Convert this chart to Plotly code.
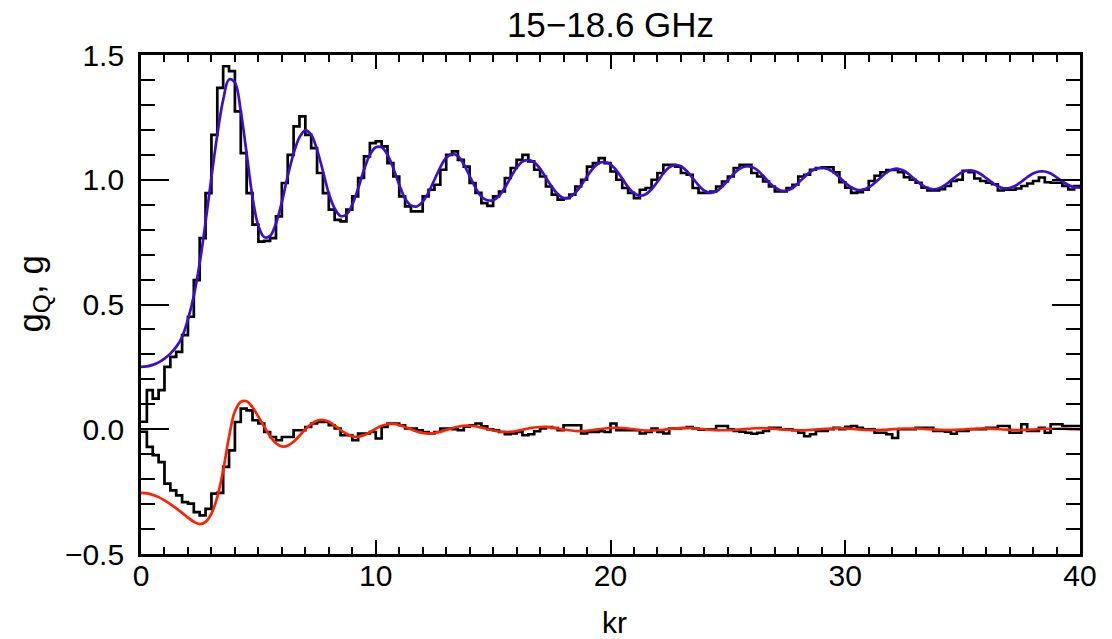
import numpy as np
import plotly.graph_objects as go

# ---------------- data ----------------
BIN_WIDTH = 0.25
X_MAX = 40.0

# measured histogram g (upper, black), 160 bins of width 0.25 in kr
g_hist = [
    0.03, 0.157, 0.123, 0.157, 0.25, 0.29, 0.31, 0.377, 0.451, 0.598,
    0.766, 0.946, 1.18, 1.368, 1.455, 1.435, 1.274, 1.107, 0.946, 0.82,
    0.752, 0.755, 0.766, 0.853, 0.987, 1.10, 1.214, 1.254, 1.18, 1.127,
    1.027, 0.946, 0.88, 0.839, 0.833, 0.88, 0.933, 1.007, 1.094, 1.147,
    1.154, 1.134, 1.067, 1.013, 0.933, 0.893, 0.873, 0.873, 0.933, 0.96,
    0.98, 1.04, 1.10, 1.114, 1.08, 1.053, 0.987, 0.947, 0.906, 0.895,
    0.933, 0.953, 1.007, 1.047, 1.08, 1.10, 1.074, 1.04, 1.013, 0.973,
    0.94, 0.92, 0.926, 0.94, 0.973, 1.0, 1.053, 1.067, 1.087, 1.067,
    1.033, 1.0, 0.967, 0.947, 0.926, 0.96, 0.967, 1.0, 1.027, 1.06,
    1.06, 1.053, 1.027, 1.02, 0.967, 0.947, 0.947, 0.953, 0.973, 0.993,
    1.013, 1.047, 1.06, 1.06, 1.027, 1.013, 0.993, 0.973, 0.953, 0.953,
    0.967, 0.98, 1.013, 1.02, 1.04, 1.047, 1.05, 1.05, 1.03, 0.99,
    0.968, 0.947, 0.95, 0.96, 0.995, 1.016, 1.03, 1.039, 1.039, 1.03,
    1.01, 1.0, 0.988, 0.968, 0.957, 0.957, 0.962, 0.975, 0.995, 1.0,
    1.036, 1.03, 1.005, 0.995, 0.988, 0.982, 0.957, 0.96, 0.96, 0.965,
    0.975, 0.985, 0.995, 1.009, 0.99, 0.988, 0.988, 0.975, 0.961, 0.975,
]

# measured histogram g_Q (lower, black)
gq_hist = [
    -0.01, -0.071, -0.104, -0.132, -0.218, -0.245, -0.265, -0.292, -0.298, -0.332,
    -0.345, -0.319, -0.258, -0.255, -0.151, -0.085, 0.029, 0.083, 0.076, 0.036,
    0.023, -0.011, -0.031, -0.044, -0.031, -0.031, -0.004, -0.004, 0.009, 0.023,
    0.029, 0.029, 0.016, 0.003, -0.024, -0.024, -0.044, -0.017, -0.017, -0.011,
    -0.037, 0.009, 0.023, 0.023, 0.016, 0.003, 0.003, -0.004, -0.011, -0.017,
    -0.011, 0.003, 0.003, 0.0, -0.004, 0.01, 0.016, 0.023, 0.012, 0.0,
    -0.004, -0.011, -0.02, -0.017, -0.011, -0.024, -0.02, -0.008, 0.003, 0.009,
    0.005, -0.004, 0.016, 0.016, 0.016, -0.017, -0.011, -0.011, -0.008, -0.011,
    0.023, -0.004, -0.004, -0.004, -0.004, -0.017, -0.011, 0.003, -0.011, -0.017,
    0.003, 0.003, 0.005, 0.009, 0.003, -0.002, 0.0, 0.0, 0.013, 0.013,
    0.0, -0.007, -0.01, -0.014, -0.018, -0.014, -0.007, 0.006, 0.006, 0.0,
    0.0, -0.004, -0.014, -0.028, -0.02, -0.007, -0.007, 0.0, 0.006, 0.0,
    0.01, 0.013, 0.006, 0.0, 0.0, -0.014, -0.014, -0.02, -0.035, 0.0,
    0.0, 0.0, 0.006, 0.006, 0.006, -0.007, -0.007, -0.01, -0.018, -0.007,
    -0.007, 0.0, 0.0, 0.0, 0.006, 0.006, 0.013, 0.013, -0.014, -0.014,
    0.02, -0.007, -0.007, 0.006, -0.014, 0.02, 0.02, 0.013, 0.013, 0.013,
]

curve_step = 0.25
g_model = [
    0.250, 0.252, 0.258, 0.268, 0.283, 0.303, 0.330, 0.370, 0.440, 0.535,
    0.665, 0.830, 1.010, 1.180, 1.320, 1.402, 1.390, 1.275, 1.105, 0.930,
    0.815, 0.770, 0.775, 0.825, 0.910, 1.015, 1.105, 1.170, 1.198, 1.180,
    1.120, 1.035, 0.945, 0.885, 0.855, 0.860, 0.900, 0.965, 1.040, 1.100,
    1.130, 1.130, 1.100, 1.045, 0.980, 0.925, 0.897, 0.893, 0.912, 0.950,
    1.000, 1.050, 1.088, 1.103, 1.095, 1.062, 1.015, 0.968, 0.932, 0.918,
    0.918, 0.935, 0.968, 1.010, 1.048, 1.073, 1.080, 1.070, 1.045, 1.008,
    0.972, 0.943, 0.927, 0.929, 0.948, 0.978, 1.013, 1.045, 1.066, 1.071,
    1.062, 1.038, 1.005, 0.971, 0.946, 0.936, 0.942, 0.962, 0.992, 1.025,
    1.050, 1.059, 1.054, 1.035, 1.007, 0.978, 0.956, 0.948, 0.953, 0.972,
    0.998, 1.024, 1.044, 1.053, 1.052, 1.039, 1.016, 0.990, 0.969, 0.957,
    0.957, 0.967, 0.987, 1.010, 1.031, 1.044, 1.047, 1.043, 1.030, 1.010,
    0.988, 0.970, 0.960, 0.960, 0.969, 0.987, 1.008, 1.028, 1.041, 1.044,
    1.036, 1.019, 0.999, 0.980, 0.967, 0.962, 0.966, 0.979, 0.997, 1.016,
    1.031, 1.037, 1.035, 1.024, 1.007, 0.989, 0.974, 0.966, 0.967, 0.976,
    0.992, 1.010, 1.025, 1.033, 1.033, 1.025, 1.010, 0.993, 0.979, 0.970,
    0.968,
]
gq_model = [
    -0.255, -0.257, -0.263, -0.272, -0.285, -0.300, -0.317, -0.335, -0.354, -0.371,
    -0.380, -0.371, -0.338, -0.272, -0.165, -0.030, 0.072, 0.110, 0.112, 0.088,
    0.050, 0.010, -0.028, -0.056, -0.069, -0.066, -0.050, -0.026, 0.000, 0.021,
    0.034, 0.037, 0.030, 0.015, -0.003, -0.018, -0.028, -0.030, -0.024, -0.012,
    0.002, 0.014, 0.020, 0.021, 0.017, 0.009, 0.000, -0.009, -0.015, -0.017,
    -0.015, -0.010, -0.003, 0.004, 0.010, 0.014, 0.014, 0.012, 0.007, 0.001,
    -0.005, -0.009, -0.011, -0.010, -0.007, -0.002, 0.003, 0.007, 0.009, 0.009,
    0.007, 0.003, -0.001, -0.004, -0.007, -0.007, -0.006, -0.003, 0.000, 0.003,
    0.005, 0.006, 0.005, 0.003, 0.000, -0.003, -0.005, -0.005, -0.004, -0.002,
    0.001, 0.003, 0.004, 0.005, 0.004, 0.002, 0.000, -0.002, -0.004, -0.004,
    -0.004, -0.003, -0.001, 0.001, 0.003, 0.004, 0.004, 0.003, 0.002, 0.000,
    -0.002, -0.003, -0.004, -0.004, -0.003, -0.001, 0.001, 0.002, 0.003, 0.004,
    0.003, 0.002, 0.000, -0.002, -0.003, -0.004, -0.003, -0.002, 0.000, 0.002,
    0.003, 0.003, 0.003, 0.002, 0.000, -0.001, -0.002, -0.003, -0.003, -0.002,
    -0.001, 0.001, 0.002, 0.003, 0.003, 0.002, 0.001, -0.001, -0.002, -0.003,
    -0.003, -0.002, -0.001, 0.001, 0.002, 0.002, 0.002, 0.002, 0.001, 0.000,
    -0.001,
]

title_text = "15\u221218.6 GHz"
x_title = "kr"
y_title = "g<sub>Q</sub>, g"
x_tickvals = [0, 10, 20, 30, 40]
x_ticktext = ["0", "10", "20", "30", "40"]
y_tickvals = [-0.5, 0.0, 0.5, 1.0, 1.5]
y_ticktext = ["\u22120.5", "0.0", "0.5", "1.0", "1.5"]

# ---------------- build ----------------
edges = np.arange(len(g_hist) + 1) * BIN_WIDTH
xs_hist = edges
g_steps = list(g_hist) + [g_hist[-1]]
gq_steps = list(gq_hist) + [gq_hist[-1]]
xs_curve = np.arange(len(g_model)) * curve_step

FONT = "Liberation Sans, Arial, sans-serif"
LW = 2.7

fig = go.Figure()
fig.add_trace(go.Scatter(x=xs_hist, y=g_steps, mode="lines", line_shape="hv",
                         line=dict(color="black", width=LW), showlegend=False))
fig.add_trace(go.Scatter(x=xs_hist, y=gq_steps, mode="lines", line_shape="hv",
                         line=dict(color="black", width=LW), showlegend=False))
fig.add_trace(go.Scatter(x=xs_curve, y=g_model, mode="lines", line_shape="spline",
                         line=dict(color="#3c0fd0", width=LW), showlegend=False))
fig.add_trace(go.Scatter(x=xs_curve, y=gq_model, mode="lines", line_shape="spline",
                         line=dict(color="#ff2200", width=LW), showlegend=False))

fig.update_layout(
    width=1112, height=639,
    paper_bgcolor="white", plot_bgcolor="white",
    margin=dict(l=141, r=32, t=55, b=85),
    font=dict(family=FONT, color="black"),
    title=dict(text=title_text, x=0.549, xanchor="center", y=0.981, yanchor="top",
               yref="container", font=dict(size=35, family=FONT)),
    annotations=[
        dict(text=x_title, xref="paper", yref="paper", x=0.504, y=-0.137,
             xanchor="center", yanchor="middle", showarrow=False,
             font=dict(size=30, family=FONT)),
        dict(text=y_title, xref="paper", yref="paper", x=-0.116, y=0.52,
             xanchor="center", yanchor="middle", showarrow=False, textangle=-90,
             font=dict(size=35, family=FONT)),
    ],
)

fig.update_xaxes(
    range=[0, X_MAX], showgrid=False, zeroline=False,
    showline=True, linecolor="black", linewidth=LW, mirror="ticks",
    ticks="inside", ticklen=14, tickwidth=2, tickcolor="black",
    tickvals=x_tickvals, ticktext=x_ticktext, ticklabelstandoff=-7,
    tickfont=dict(size=30, family=FONT),
    minor=dict(ticks="inside", dtick=1, ticklen=7, tickwidth=2, tickcolor="black"),
)
fig.update_yaxes(
    range=[-0.5, 1.5], showgrid=False, zeroline=False,
    showline=True, linecolor="black", linewidth=LW, mirror="ticks",
    ticks="inside", ticklen=28, tickwidth=2, tickcolor="black",
    tickvals=y_tickvals, ticktext=y_ticktext, ticklabelstandoff=8,
    tickfont=dict(size=30, family=FONT),
    minor=dict(ticks="inside", dtick=0.1, ticklen=14, tickwidth=2, tickcolor="black"),
)

# remove the page's default 8 px body margin so the figure fills the window exactly
fig.write_html("out.html", config={"displayModeBar": False},
               post_script="document.body.style.margin='0';")
